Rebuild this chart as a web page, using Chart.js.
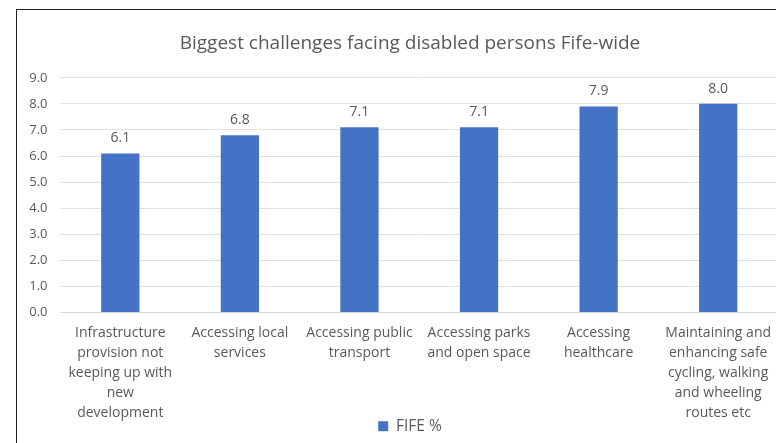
<!DOCTYPE html>
<html>
<head>
<meta charset="utf-8">
<script src="https://cdn.jsdelivr.net/npm/chart.js@4/dist/chart.umd.min.js"></script>
<style>
  html, body { margin: 0; padding: 0; background: #fff; overflow: hidden; width: 776px; height: 443px; }
  #box {
    position: absolute; left: 16px; top: 9px;
    width: 786px; height: 453px;
    border-left: 1.5px solid #222; border-top: 1.5px solid #222;
    background: #fff;
  }
  #chart { display: block; }
</style>
</head>
<body>
<div id="box"><canvas id="chart" width="786" height="453"></canvas></div>
<script>
var categories = [
  ['Infrastructure', 'provision not', 'keeping up with', 'new', 'development'],
  ['Accessing local', 'services'],
  ['Accessing public', 'transport'],
  ['Accessing parks', 'and open space'],
  ['Accessing', 'healthcare'],
  ['Maintaining and', 'enhancing safe', 'cycling, walking', 'and wheeling', 'routes etc']
];
var fifeValues = [6.1, 6.8, 7.1, 7.1, 7.9, 8.0];
var seriesName = 'FIFE %';
var chartTitle = 'Biggest challenges facing disabled persons Fife-wide';

var textGrey = '#595959';
var fontFamily = "'Open Sans', 'Noto Sans', sans-serif";

// small inline plugin for the value labels above each bar
var valueLabels = {
  id: 'valueLabels',
  afterDatasetsDraw: function(chart) {
    var ctx = chart.ctx;
    var meta = chart.getDatasetMeta(0);
    ctx.save();
    ctx.fillStyle = textGrey;
    ctx.font = '14px ' + fontFamily;
    ctx.textAlign = 'center';
    ctx.textBaseline = 'middle';
    meta.data.forEach(function(bar, i) {
      ctx.fillText(fifeValues[i].toFixed(1), bar.x, bar.y - 15);
    });
    ctx.restore();
  }
};

// pull the legend up closer to the category labels
var legendLift = {
  id: 'legendLift',
  afterLayout: function(chart) {
    chart.legend.top -= 19;
    chart.legend.bottom -= 19;
  }
};

var ctx = document.getElementById('chart').getContext('2d');
var myChart = new Chart(ctx, {
  type: 'bar',
  data: {
    labels: categories,
    datasets: [{
      label: seriesName,
      data: fifeValues,
      backgroundColor: '#4472c4',
      barPercentage: 0.32,
      categoryPercentage: 1.0
    }]
  },
  options: {
    responsive: false,
    animation: false,
    layout: { padding: 0 },
    plugins: {
      title: {
        display: true,
        text: chartTitle,
        color: textGrey,
        font: { family: fontFamily, size: 19, weight: 'normal' },
        padding: { top: 22, bottom: 23 }
      },
      legend: {
        position: 'bottom',
        labels: {
          color: textGrey,
          font: { family: fontFamily, size: 15.5 },
          boxWidth: 10, boxHeight: 10,
          padding: 3
        }
      },
      tooltip: { enabled: false }
    },
    scales: {
      x: {
        grid: { display: false, drawTicks: false },
        border: { color: '#d9d9d9' },
        ticks: {
          color: textGrey,
          font: { family: fontFamily, size: 14, lineHeight: 1.43 },
          maxRotation: 0, autoSkip: false, padding: 11
        },
        afterFit: function(scale) {
          scale.paddingLeft = 0;
          scale.paddingRight = 25;
        }
      },
      y: {
        min: 0, max: 9,
        grid: { color: '#e0e0e0', drawTicks: false },
        border: { display: false },
        ticks: {
          stepSize: 1,
          color: textGrey,
          font: { family: fontFamily, size: 13 },
          padding: 13,
          callback: function(v) { return v.toFixed(1); }
        },
        afterFit: function(scale) {
          scale.width = 43.5;
        }
      }
    }
  },
  plugins: [valueLabels, legendLift]
});
</script>
</body>
</html>
